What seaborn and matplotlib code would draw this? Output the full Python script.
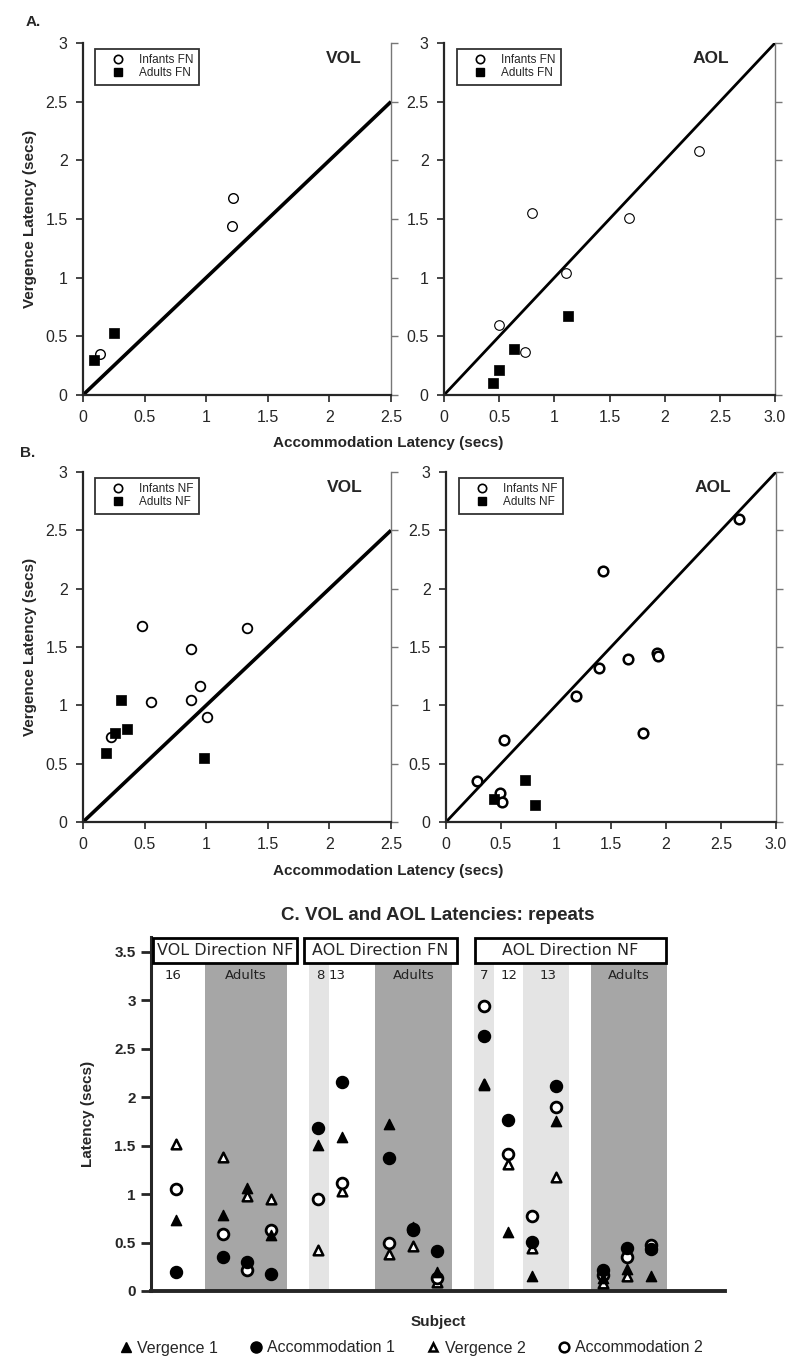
import numpy as np
import pandas as pd
import matplotlib.pyplot as plt
import seaborn as sns
from matplotlib.lines import Line2D
from matplotlib.patches import Rectangle

sns.set_style("ticks")
plt.rcParams['font.family'] = ['Liberation Sans', 'DejaVu Sans']

# ---------------- data: panel A (far -> near) ----------------
a_vol_inf_x = [1.22, 1.21, 0.14]
a_vol_inf_y = [1.68, 1.44, 0.35]
a_vol_ad_x = [0.09, 0.25]
a_vol_ad_y = [0.30, 0.53]

a_aol_inf_x = [2.31, 0.80, 1.68, 1.11, 0.50, 0.73]
a_aol_inf_y = [2.08, 1.55, 1.51, 1.04, 0.60, 0.37]
a_aol_ad_x = [1.12, 0.63, 0.50, 0.44]
a_aol_ad_y = [0.67, 0.39, 0.21, 0.10]

# ---------------- data: panel B (near -> far) ----------------
b_vol_inf_x = [0.48, 1.33, 0.88, 0.95, 0.88, 0.55, 1.01, 0.23]
b_vol_inf_y = [1.68, 1.66, 1.48, 1.17, 1.05, 1.03, 0.90, 0.73]
b_vol_ad_x = [0.31, 0.26, 0.36, 0.19, 0.98]
b_vol_ad_y = [1.05, 0.76, 0.80, 0.59, 0.55]

b_aol_inf_x = [2.66, 1.43, 1.39, 1.65, 1.92, 1.93, 1.18, 1.79, 0.53, 0.28, 0.49, 0.51]
b_aol_inf_y = [2.60, 2.15, 1.32, 1.40, 1.45, 1.42, 1.08, 0.76, 0.70, 0.35, 0.25, 0.17]
b_aol_ad_x = [0.72, 0.44, 0.81]
b_aol_ad_y = [0.36, 0.20, 0.15]

# ---------------- data: panel C (repeats) ----------------
subject_pos = [1, 3, 4, 5, 7, 8, 10, 11, 12, 14, 15, 16, 17, 19, 20, 21]
vergence1 = [0.73, 0.78, 1.06, 0.58, 1.51, 1.59, 1.72, 0.66, 0.20,
             2.12, 0.61, 0.15, 1.75, 0.13, 0.23, 0.15]
accommodation1 = [0.20, 0.35, 0.30, 0.18, 1.68, 2.16, 1.37, 0.63, 0.41,
                  2.63, 1.76, 0.51, 2.11, 0.22, 0.44, 0.43]
vergence2 = [1.52, 1.38, 0.98, 0.95, 0.42, 1.03, 0.38, 0.46, 0.09,
             2.13, 1.31, 0.44, 1.18, 0.08, 0.15, 0.45]
accommodation2 = [1.05, 0.59, 0.22, 0.63, 0.95, 1.11, 0.50, 0.64, 0.13,
                  2.94, 1.41, 0.77, 1.90, 0.17, 0.35, 0.47]

fig = plt.figure(figsize=(8, 13.67), dpi=100)
H = 1367.0


def px_axes(x0, y0, x1, y1):
    return fig.add_axes([x0 / 800, 1 - y1 / H, (x1 - x0) / 800, (y1 - y0) / H])


def scatter_panel(ax, inf_x, inf_y, ad_x, ad_y, xmax, xlabels, tag, tag_x, legs, lw, ew):
    ax.plot([0, xmax], [0, xmax], color='black', lw=lw, zorder=2, solid_capstyle='butt')
    sns.scatterplot(x=inf_x, y=inf_y, ax=ax, marker='o', s=48, color='white',
                    edgecolor='black', linewidth=ew, zorder=3, clip_on=False)
    sns.scatterplot(x=ad_x, y=ad_y, ax=ax, marker='s', s=55, color='black',
                    edgecolor='black', linewidth=0.5, zorder=3, clip_on=False)
    ax.set_xlim(0, xmax)
    ax.set_ylim(0, 3)
    ax.set_xticks(np.arange(0, xmax + 0.01, 0.5))
    ax.set_xticklabels(xlabels)
    ax.set_yticks(np.arange(0, 3.01, 0.5))
    ax.set_yticklabels(['0', '0.5', '1', '1.5', '2', '2.5', '3'])
    ax.tick_params(labelsize=11.5, length=5, width=1.2, pad=6)
    for s in ['left', 'bottom']:
        ax.spines[s].set_linewidth(1.6)
    ax.spines['top'].set_visible(False)
    ax.spines['right'].set_visible(False)
    sec = ax.secondary_yaxis('right')
    sec.set_yticks(np.arange(0, 3.01, 0.5))
    sec.tick_params(length=5, width=1, color='#777777', labelright=False)
    sec.spines['right'].set_color('#777777')
    sec.spines['right'].set_linewidth(1)
    ax.text(tag_x, 0.957, tag, transform=ax.transAxes, fontsize=12.5,
            fontweight='bold', ha='center', va='center')
    handles = [Line2D([], [], ls='', marker='o', mfc='white', mec='black', mew=1.2, ms=6),
               Line2D([], [], ls='', marker='s', mfc='black', mec='black', ms=6)]
    leg = ax.legend(handles, legs, loc='upper left', bbox_to_anchor=(0.02, 1.0),
                    fontsize=8.5, frameon=True, fancybox=False, edgecolor='black',
                    handlelength=3.0, handletextpad=0.3, borderpad=0.45,
                    labelspacing=0.1)
    leg.get_frame().set_linewidth(1.3)


ax_a1 = px_axes(83, 43, 391, 395)
ax_a2 = px_axes(444, 43, 775, 395)
ax_b1 = px_axes(83, 472, 391, 822)
ax_b2 = px_axes(446, 472, 776, 822)

lbl25 = ['0', '0.5', '1', '1.5', '2', '2.5']
lbl30 = ['0', '0.5', '1', '1.5', '2', '2.5', '3.0']

scatter_panel(ax_a1, a_vol_inf_x, a_vol_inf_y, a_vol_ad_x, a_vol_ad_y, 2.5, lbl25,
              'VOL', 0.845, ['Infants FN', 'Adults FN'], 2.6, 1.0)
scatter_panel(ax_a2, a_aol_inf_x, a_aol_inf_y, a_aol_ad_x, a_aol_ad_y, 3.0, lbl30,
              'AOL', 0.807, ['Infants FN', 'Adults FN'], 2.0, 0.8)
scatter_panel(ax_b1, b_vol_inf_x, b_vol_inf_y, b_vol_ad_x, b_vol_ad_y, 2.5, lbl25,
              'VOL', 0.85, ['Infants NF', 'Adults NF'], 2.6, 1.3)
scatter_panel(ax_b2, b_aol_inf_x, b_aol_inf_y, b_aol_ad_x, b_aol_ad_y, 3.0, lbl30,
              'AOL', 0.81, ['Infants NF', 'Adults NF'], 2.0, 1.8)

for ax in [ax_a1, ax_b1]:
    ax.set_ylabel('Vergence Latency (secs)', fontsize=11, fontweight='bold', labelpad=6)

fig.text(33 / 800, 1 - 22 / H, 'A.', fontsize=11, fontweight='bold', ha='center', va='center')
fig.text(28 / 800, 1 - 453 / H, 'B.', fontsize=11, fontweight='bold', ha='center', va='center')
fig.text(388 / 800, 1 - 443 / H, 'Accommodation Latency (secs)', fontsize=11,
         fontweight='bold', ha='center', va='center')
fig.text(388 / 800, 1 - 871 / H, 'Accommodation Latency (secs)', fontsize=11,
         fontweight='bold', ha='center', va='center')

# ---------------- panel C ----------------
ax_c = px_axes(151, 937, 725, 1291)
ax_c.set_xlim(-0.04, 24.13)
ax_c.set_ylim(0, 3.65)

bands = [(2.23, 5.69, '#a6a6a6'), (6.61, 7.45, '#e4e4e4'), (9.39, 12.63, '#a6a6a6'),
         (13.56, 14.40, '#e4e4e4'), (15.62, 17.56, '#e4e4e4'), (18.49, 21.69, '#a6a6a6')]
for x0, x1, c in bands:
    ax_c.add_patch(Rectangle((x0, 0), x1 - x0, 3.38, color=c, lw=0, zorder=0))

boxes = [(0.04, 6.11, 'VOL Direction NF'), (6.40, 12.84, 'AOL Direction FN'),
         (13.60, 21.64, 'AOL Direction NF')]
for x0, x1, t in boxes:
    ax_c.add_patch(Rectangle((x0, 3.38), x1 - x0, 0.26, facecolor='white',
                             edgecolor='black', lw=2, zorder=4, clip_on=False))
    ax_c.text((x0 + x1) / 2, 3.51, t, family='DejaVu Sans', fontsize=11.5,
              ha='center', va='center', zorder=5, clip_on=False)

group_labels = [(0.89, '16'), (3.96, 'Adults'), (7.08, '8'), (7.81, '13'),
                (11.01, 'Adults'), (13.98, '7'), (15.03, '12'), (16.68, '13'),
                (20.09, 'Adults')]
for x, t in group_labels:
    ax_c.text(x, 3.25, t, family='DejaVu Sans', fontsize=9.5, ha='center',
              va='center', color='#222222')

df = pd.DataFrame({'pos': subject_pos * 4,
                   'latency': vergence2 + accommodation2 + vergence1 + accommodation1,
                   'series': ['Vergence 2'] * 16 + ['Accommodation 2'] * 16 +
                             ['Vergence 1'] * 16 + ['Accommodation 1'] * 16})
styles = {'Vergence 2': ('^', 'white', 1.8, 48),
          'Accommodation 2': ('o', 'white', 2.0, 60),
          'Vergence 1': ('^', 'black', 1.0, 55),
          'Accommodation 1': ('o', 'black', 1.0, 75)}
for name, (m, fc, ew, sz) in styles.items():
    sub = df[df['series'] == name]
    sns.scatterplot(data=sub, x='pos', y='latency', ax=ax_c, marker=m, s=sz,
                    color=fc, edgecolor='black', linewidth=ew, zorder=3, clip_on=False)

ax_c.set_yticks(np.arange(0, 3.51, 0.5))
ax_c.set_yticklabels(['0', '0.5', '1', '1.5', '2', '2.5', '3', '3.5'])
for t in ax_c.get_yticklabels():
    t.set_fontweight('bold')
ax_c.set_xticks([])
ax_c.tick_params(axis='y', labelsize=11, length=7, width=2, pad=4)
ax_c.spines['top'].set_visible(False)
ax_c.spines['right'].set_visible(False)
ax_c.spines['left'].set_linewidth(2.2)
ax_c.spines['bottom'].set_linewidth(2.8)
ax_c.set_xlabel('Subject', fontsize=11, fontweight='bold', labelpad=17)
ax_c.set_ylabel('Latency (secs)', fontsize=11, fontweight='bold', labelpad=14)
ax_c.set_title('C. VOL and AOL Latencies: repeats', fontsize=13.5,
               fontweight='bold', pad=12)

handles = [Line2D([], [], ls='', marker='^', mfc='black', mec='black', ms=7),
           Line2D([], [], ls='', marker='o', mfc='black', mec='black', ms=8),
           Line2D([], [], ls='', marker='^', mfc='white', mec='black', mew=1.8, ms=6),
           Line2D([], [], ls='', marker='o', mfc='white', mec='black', mew=1.8, ms=7)]
fig.legend(handles, ['Vergence 1', 'Accommodation 1', 'Vergence 2', 'Accommodation 2'],
           loc='center', bbox_to_anchor=(411 / 800, 1 - 1348 / H), ncol=4,
           frameon=False, fontsize=11.5, handlelength=0.8, handletextpad=0.3,
           columnspacing=2.0)

fig.savefig('out.png', dpi=100)
